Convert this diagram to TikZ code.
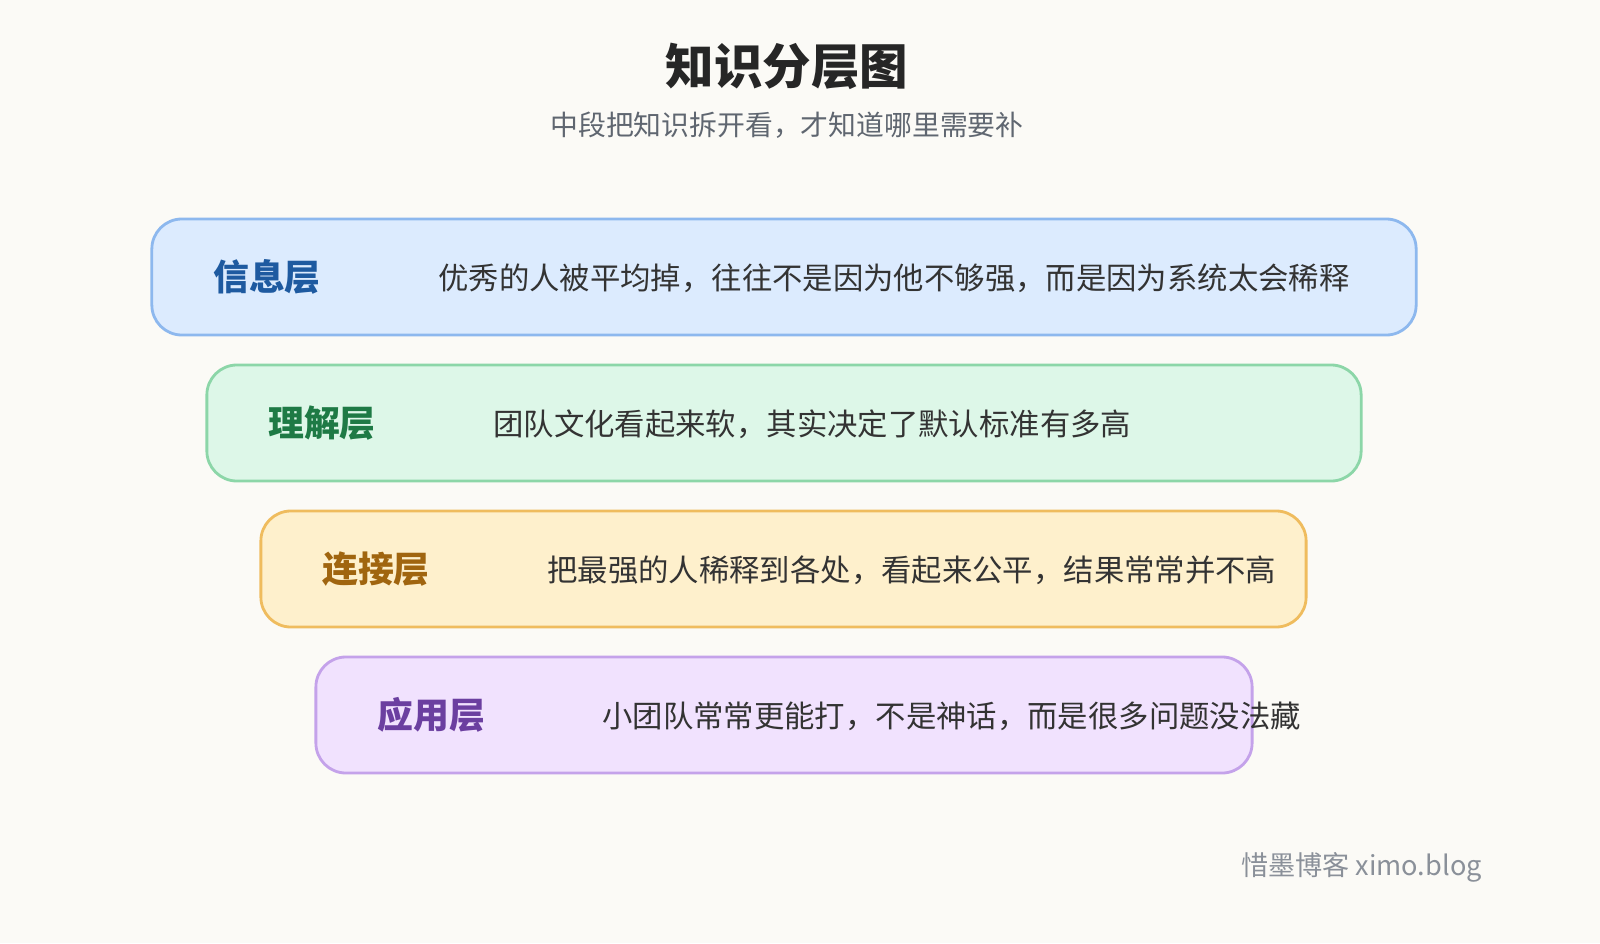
\documentclass[tikz,border=0pt]{standalone}
\usepackage{fontspec}
\setmainfont{Noto Sans CJK SC}
\usetikzlibrary{positioning}
\definecolor{bgcol}{HTML}{FBFAF6}
\definecolor{txtcol}{HTML}{333333}
\definecolor{subcol}{HTML}{5F6670}
\definecolor{footcol}{HTML}{8A9099}
\definecolor{infofill}{HTML}{DCEBFE}\definecolor{infoline}{HTML}{8DB8EE}\definecolor{infotxt}{HTML}{1E5AA0}
\definecolor{undfill}{HTML}{DDF7E8}\definecolor{undline}{HTML}{8CD6A8}\definecolor{undtxt}{HTML}{1E7A45}
\definecolor{linkfill}{HTML}{FEF0CC}\definecolor{linkline}{HTML}{EFBC5E}\definecolor{linktxt}{HTML}{A0650F}
\definecolor{appfill}{HTML}{F1E2FE}\definecolor{appline}{HTML}{C4A2EA}\definecolor{apptxt}{HTML}{6B3FA0}
\tikzset{
  layer/.style={draw, line width=2pt, rounded corners=0.75cm, minimum height=2.9cm, inner sep=0pt},
  layername/.style={anchor=west, inner sep=0pt, font=\fontsize{25.5}{30}\selectfont\bfseries},
  layertext/.style={anchor=west, inner sep=0pt, text=txtcol, font=\fontsize{21.6}{26}\selectfont}
}
\begin{document}
\begin{tikzpicture}[x=0.025cm, y=-0.025cm]
  % Background
  \fill[bgcol] (0,0) rectangle (1600,943);
  \useasboundingbox (0,0) rectangle (1600,943);

  % Title
  \node[font=\fontsize{34.5}{40}\selectfont\bfseries, text=black!85] (title) at (787,66) {知识分层图};
  \node[font=\fontsize{19.8}{24}\selectfont, text=subcol] (subtitle) at (787,125) {中段把知识拆开看，才知道哪里需要补};

  % Layers
  \node[layer, fill=infofill, draw=infoline, minimum width=31.6cm] (info) at (784,277) {};
  \node[layer, fill=undfill, draw=undline, minimum width=28.85cm] (und) at (784,423) {};
  \node[layer, fill=linkfill, draw=linkline, minimum width=26.125cm] (link) at (783.5,569) {};
  \node[layer, fill=appfill, draw=appline, minimum width=23.4cm] (app) at (784,715) {};

  % Layer names
  \node[layername, text=infotxt] (infoname) at (213,277) {信息层};
  \node[layername, text=undtxt] (undname) at (268,423) {理解层};
  \node[layername, text=linktxt] (linkname) at (322,569) {连接层};
  \node[layername, text=apptxt] (appname) at (377,715) {应用层};

  % Layer texts
  \node[layertext] (infotext) at (438,278) {优秀的人被平均掉，往往不是因为他不够强，而是因为系统太会稀释};
  \node[layertext] (undtext) at (493,424) {团队文化看起来软，其实决定了默认标准有多高};
  \node[layertext] (linktext) at (547,570) {把最强的人稀释到各处，看起来公平，结果常常并不高};
  \node[layertext] (apptext) at (602,716) {小团队常常更能打，不是神话，而是很多问题没法藏};

  % Footer
  \node[anchor=east, inner sep=0pt, text=footcol, font=\fontsize{19.3}{23}\selectfont] (footer) at (1482,867) {惜墨博客 ximo.blog};
\end{tikzpicture}
\end{document}
